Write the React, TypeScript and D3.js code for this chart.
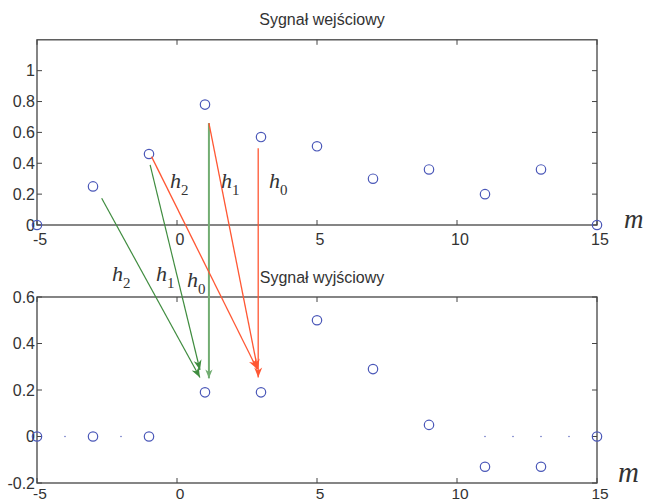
import React from "react";
import * as d3 from "d3";

const mValues = [-5, -3, -1, 1, 3, 5, 7, 9, 11, 13, 15];
const inputValues = [0, 0.25, 0.46, 0.78, 0.57, 0.51, 0.3, 0.36, 0.2, 0.36, 0];
const outputValues = [0, 0, 0, 0.19, 0.19, 0.5, 0.29, 0.05, -0.13, -0.13, 0];
const outputDots = [-4, -2, 11, 12, 13, 14];

const xTicks = [-5, 0, 5, 10, 15];
const topYTicks = [0, 0.2, 0.4, 0.6, 0.8, 1];
const bottomYTicks = [-0.2, 0, 0.2, 0.4, 0.6];

const topTitle = "Sygnał wejściowy";
const bottomTitle = "Sygnał wyjściowy";

// arrows: start in input-plot coords, end in output-plot coords
const arrowFromM = [-2.69, -0.96, 1.14, -0.91, 1.14, 2.9];
const arrowFromV = [0.173, 0.39, 0.66, 0.443, 0.66, 0.498];
const arrowToM = [0.82, 0.82, 1.14, 2.86, 2.88, 2.9];
const arrowToV = [0.254, 0.286, 0.25, 0.29, 0.29, 0.254];
const arrowKind = ["g", "g", "gv", "r", "r", "r"];

const W = 648;
const H = 504;
const L = 37;
const R = 597;

export default function App() {
  const x = d3.scaleLinear().domain([-5, 15]).range([L, R]);
  const yTop = d3.scaleLinear().domain([0, 1.2]).range([225, 39.8]);
  const yBot = d3.scaleLinear().domain([-0.2, 0.6]).range([483, 297]);

  const axisColor = "#444";
  const textColor = "#333";
  const markColor = "#4a57b8";
  const tickFont = "'Liberation Sans', Arial, sans-serif";
  const serif = "'Liberation Serif', 'Times New Roman', serif";

  const colors: Record<string, string> = { g: "#3f8c3f", gv: "#72ad72", r: "#ff5733" };
  const widths: Record<string, number> = { g: 1.2, gv: 2, r: 1.3 };

  const renderAxes = (
    y: d3.ScaleLinear<number, number>,
    yTicks: number[],
    title: string,
    titleY: number,
    labelY: number,
    labelSize: number
  ) => {
    const [y0, y1] = y.range();
    const ticksLen = 5;
    return (
      <g>
        <rect x={L} y={y1} width={R - L} height={y0 - y1} fill="none" stroke={axisColor} strokeWidth={1.3} />
        {xTicks.map((t) => (
          <g key={"x" + t}>
            <line x1={x(t)} x2={x(t)} y1={y1} y2={y1 + ticksLen} stroke={axisColor} />
            <line x1={x(t)} x2={x(t)} y1={y0} y2={y0 - ticksLen} stroke={axisColor} />
            <text x={x(t) + 3} y={labelY} textAnchor="middle" fontFamily={tickFont} fontSize={labelSize} fill={textColor}>
              {String(t)}
            </text>
          </g>
        ))}
        {yTicks.map((t) => (
          <g key={"y" + t}>
            <line x1={L} x2={L + ticksLen} y1={y(t)} y2={y(t)} stroke={axisColor} />
            <line x1={R} x2={R - ticksLen} y1={y(t)} y2={y(t)} stroke={axisColor} />
            <text x={35} y={y(t)} dy="0.36em" textAnchor="end" fontFamily={tickFont} fontSize={16} fill={textColor}>
              {String(t)}
            </text>
          </g>
        ))}
        <text x={(L + R) / 2 + 5} y={titleY} textAnchor="middle" fontFamily={tickFont} fontSize={16} fill={textColor}>
          {title}
        </text>
      </g>
    );
  };

  const hLabel = (key: string, hx: number, hy: number, sub: string, size: number) => (
    <text key={key} x={hx} y={hy} fontFamily={serif} fontStyle="italic" fontSize={size} fill="#333">
      h
      <tspan dy={size * 0.3} fontSize={size * 0.68} fontStyle="normal">
        {sub}
      </tspan>
    </text>
  );

  return (
    <svg width={W} height={H} style={{ position: "absolute", left: 0, top: 0, background: "#fff" }}>
      <defs>
        {Object.keys(colors).map((k) => (
          <marker
            key={k}
            id={"ah-" + k}
            viewBox="0 0 10 10"
            refX={10}
            refY={5}
            markerUnits="userSpaceOnUse"
            markerWidth={k === "gv" ? 9 : 10}
            markerHeight={k === "gv" ? 9 : 10}
            orient="auto"
          >
            <path d="M0,1 L10,5 L0,9 L3,5 Z" fill={colors[k]} />
          </marker>
        ))}
      </defs>
      {renderAxes(yTop, topYTicks, topTitle, 25, 245, 16)}
      {renderAxes(yBot, bottomYTicks, bottomTitle, 283, 499, 15.5)}

      {mValues.map((m, i) => (
        <circle key={"in" + m} cx={x(m)} cy={yTop(inputValues[i])} r={4.7} fill="none" stroke={markColor} strokeWidth={1.2} />
      ))}
      {mValues.map((m, i) => (
        <circle key={"out" + m} cx={x(m)} cy={yBot(outputValues[i])} r={4.7} fill="none" stroke={markColor} strokeWidth={1.2} />
      ))}
      {outputDots.map((m) => (
        <circle key={"dot" + m} cx={x(m)} cy={yBot(0)} r={0.7} fill={markColor} />
      ))}

      {arrowKind.map((k, i) => (
        <line
          key={"arrow" + i}
          x1={x(arrowFromM[i])}
          y1={yTop(arrowFromV[i])}
          x2={x(arrowToM[i])}
          y2={yBot(arrowToV[i])}
          stroke={colors[k]}
          strokeWidth={widths[k]}
          markerEnd={`url(#ah-${k})`}
        />
      ))}

      {hLabel("t2", 170, 188, "2", 22)}
      {hLabel("t1", 221, 188, "1", 22)}
      {hLabel("t0", 269, 188, "0", 22)}
      {hLabel("b2", 112, 281, "2", 22)}
      {hLabel("b1", 156, 281, "1", 22)}
      {hLabel("b0", 187, 287, "0", 22)}

      <text x={624} y={228} fontFamily={serif} fontStyle="italic" fontSize={27} fill="#333">
        m
      </text>
      <text x={618} y={482} fontFamily={serif} fontStyle="italic" fontSize={29} fill="#333">
        m
      </text>
    </svg>
  );
}
